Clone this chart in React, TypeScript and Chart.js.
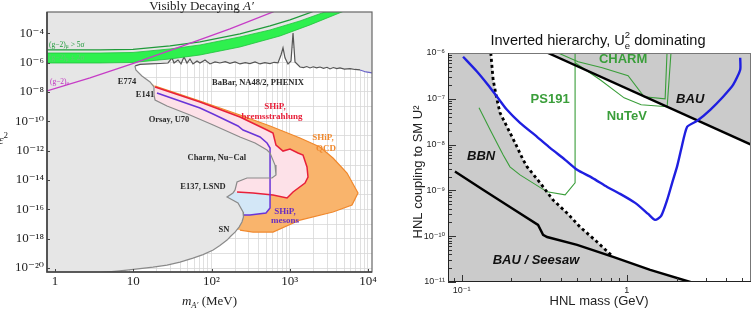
import React, { useEffect, useRef } from "react";
import { Chart, registerables } from "chart.js";

Chart.register(...registerables);

type P = [number, number];

const SERIF = '"Liberation Serif", "DejaVu Serif", serif';
const SANS = '"Liberation Sans", Arial, "DejaVu Sans", sans-serif';

/* ================= Left panel: Visibly Decaying A' ================= */
const leftXRange: P = [0.79, 11250];
const leftYRange: P = [5.4e-21, 2.8e-3];
const leftXTickValues = [1, 10, 100, 1000, 10000];
const leftXTickLabels = ["1", "10", "10²", "10³", "10⁴"];
const leftYTickValues = [1e-4, 1e-6, 1e-8, 1e-10, 1e-12, 1e-14, 1e-16, 1e-18, 1e-20];
const leftYTickLabels = ["10⁻⁴", "10⁻⁶", "10⁻⁸", "10⁻¹⁰", "10⁻¹²", "10⁻¹⁴", "10⁻¹⁶", "10⁻¹⁸", "10⁻²⁰"];

// upper limit from BaBar, NA48/2, PHENIX (noisy line)
const babarLimit: P[] = [
  [10.6, 6.0e-7], [12.2, 7.5e-7], [16.4, 8.1e-7], [22, 8.7e-7], [27.8, 9.4e-7], [31.3, 2.07e-6],
  [33.2, 9.4e-7], [37.3, 1.51e-6], [40.8, 8.1e-7], [44.5, 2.42e-6], [48.6, 9.4e-7], [53.1, 1.77e-6],
  [58, 8.1e-7], [65.3, 1.29e-6], [71.3, 9.4e-7], [82.6, 1.51e-6], [95.7, 8.1e-7], [111, 1.11e-6],
  [128, 9.4e-7], [150, 1.15e-6], [172, 9.0e-7], [200, 1.1e-6], [231, 8.1e-7], [270, 1.0e-6],
  [310, 8.5e-7], [360, 1.1e-6], [417, 8.1e-7], [480, 1.0e-6], [560, 8.6e-7], [630, 1.05e-6],
  [707, 9.5e-7], [773, 3.3e-6], [820, 1.0e-5], [869, 2.1e-6], [950, 8.1e-7], [1038, 1.3e-6],
  [1101, 1.05e-4], [1167, 1.1e-6], [1353, 5.0e-7], [1500, 4.6e-7], [1650, 5.4e-7], [1815, 4.3e-7],
  [2000, 5.2e-7], [2200, 4.4e-7], [2436, 5.0e-7], [2700, 4.1e-7], [3000, 4.8e-7], [3266, 3.7e-7],
  [3600, 4.6e-7], [4000, 3.9e-7], [4387, 4.3e-7], [5000, 3.6e-7], [5888, 3.9e-7], [6800, 3.4e-7],
  [7907, 3.15e-7],
];
const babarTail: P[] = [[7907, 3.15e-7], [9425, 2.3e-7], [11246, 1.97e-7], [13000, 1.8e-7]];

// beam dump / supernova limits (E774, E141, Orsay, Charm, E137, SN)
const beamDumpLimit: P[] = [
  [10.5, 6.0e-7], [10.8, 3.15e-7], [12.9, 1.23e-7], [16.4, 4.8e-8], [18.4, 2.2e-8], [18.4, 6.2e-9],
  [19, 2.84e-9], [27, 1.1e-9], [53, 2.7e-10], [105, 5.6e-11], [231, 8.5e-12], [360, 3.3e-12],
  [512, 1.1e-12], [560, 6.9e-13], [648, 1.05e-13], [667, 2.2e-14], [593, 1.37e-14], [284, 1.37e-14],
  [212, 7.3e-15], [200, 2.1e-15], [188, 1.3e-15], [158, 6.9e-16], [218, 2.7e-16], [253, 6.6e-17],
  [256, 3.0e-17], [245, 1.37e-17], [225, 6.2e-18], [200, 2.8e-18], [177, 1.52e-18], [158, 8.1e-19],
  [128, 3.4e-19], [105, 1.7e-19], [78, 8.3e-20], [58, 4.8e-20], [39.6, 2.57e-20], [27, 1.6e-20],
  [17.9, 1.17e-20], [12.2, 9.2e-21], [8.3, 7.3e-21], [6.2, 6.2e-21], [3.76, 4.9e-21],
];
const excludedCorners: P[] = [[0.5, 1e-2], [2e4, 1e-2]];
const excludedBottomLeft: P[] = [[0.5, 4e-21]];

// (g-2) curves
const gm2MuBandUpper: P[] = [
  [0.64, 4.5e-6], [3.76, 4.5e-6], [9.93, 4.9e-6], [29.5, 8.5e-6], [71.3, 1.59e-5], [231, 5.6e-5],
  [560, 1.68e-4], [1353, 6.9e-4], [2820, 2.83e-3], [3266, 3.9e-3],
];
const gm2MuBandLower: P[] = [
  [0.64, 9.4e-7], [3.76, 9.4e-7], [9.93, 1.02e-6], [29.5, 1.77e-6], [71.3, 3.3e-6], [231, 1.16e-5],
  [750, 6.5e-5], [1815, 3.7e-4], [4656, 2.83e-3], [5888, 4.9e-3],
];
const gm2Mu5Sigma: P[] = [
  [0.64, 7.3e-6], [3.76, 7.3e-6], [9.93, 7.9e-6], [29.5, 1.36e-5], [71.3, 2.55e-5], [231, 8.95e-5],
  [560, 3.15e-4], [1007, 8.1e-4], [1925, 2.83e-3], [2164, 3.9e-3],
];
const gm2E: P[] = [
  [0.64, 5.3e-9], [0.79, 1.17e-8], [2.8, 9.0e-8], [10.5, 9.4e-7], [39.6, 1.16e-5], [172, 1.96e-4],
  [611, 2.83e-3], [750, 4.9e-3],
];

// SHiP sensitivities
const shipQcdEdge: P[] = [
  [19, 2.56e-8], [71.3, 2.43e-9], [231, 2.7e-10], [560, 4.8e-11], [1353, 7.3e-12], [2436, 1.77e-12],
  [3571, 3.15e-13], [5394, 3.0e-14], [7452, 1.3e-15], [6248, 1.97e-16], [3571, 6.6e-17],
  [1353, 1.87e-17], [611, 2.84e-18], [339, 2.84e-18], [231, 3.9e-18],
];
const shipQcdHidden: P[] = [[128, 5.4e-18], [39.6, 4.3e-16], [16.4, 1.23e-10], [16.4, 4.8e-8]];
const shipBremEdge: P[] = [
  [19, 2.18e-8], [71.3, 2.07e-9], [231, 1.96e-10], [512, 2.56e-11], [611, 1.6e-11], [667, 2.4e-12],
  [820, 9.4e-13], [1007, 1.29e-12], [1275, 6.9e-13], [1477, 5.0e-13], [1661, 7.7e-14], [1711, 1.6e-14],
  [1567, 6.2e-15], [1101, 1.52e-15], [923, 5.9e-16], [611, 9.5e-16], [339, 1.3e-15], [212, 1.52e-15],
];
const shipBremHidden: P[] = [[149, 1.52e-15], [34, 5.3e-12], [16.4, 6.2e-9], [16.4, 3.5e-8]];
const shipMesonEdge: P[] = [
  [20.1, 8.5e-9], [71.3, 8.1e-10], [104.5, 3.15e-10], [218, 4.8e-11], [253, 2.56e-11], [293, 1.87e-11],
  [417, 8.5e-12], [512, 3.3e-12], [560, 1.52e-12], [560, 1.23e-16], [497, 5.6e-17], [310, 4.1e-17],
  [260, 4.1e-17],
];
const shipMesonHidden: P[] = [[128, 4.1e-17], [29.5, 5.3e-12], [17.4, 2.84e-9], [18.4, 1.37e-8]];

const leftGrayNotes = [
  { text: "E774", x: 8.3, y: 4.8e-8 },
  { text: "E141", x: 14.1, y: 6.2e-9 },
  { text: "BaBar, NA48/2, PHENIX", x: 393, y: 4.1e-8 },
  { text: "Orsay, U70", x: 28.6, y: 1.23e-10 },
  { text: "Charm, Nu\u2212Cal", x: 117, y: 3.15e-13 },
  { text: "E137, LSND", x: 77.9, y: 3.3e-15 },
  { text: "SN", x: 144, y: 3.9e-18 },
];
const leftShipNotes = [
  { text: "SHiP,", x: 648, y: 9.5e-10, color: "#e8203a" },
  { text: "bremsstrahlung", x: 593, y: 1.96e-10, color: "#e8203a" },
  { text: "SHiP,", x: 2661, y: 7.3e-12, color: "#f08a30" },
  { text: "QCD", x: 2905, y: 1.29e-12, color: "#f08a30" },
  { text: "SHiP,", x: 869, y: 6.6e-17, color: "#6a2fc0" },
  { text: "mesons", x: 869, y: 1.6e-17, color: "#6a2fc0" },
];
const gm2Notes = [
  { main: "(g\u22122)", sub: "\u03bc", rest: " > 5\u03c3", x: 0.84, y: 1.59e-5, color: "#1f9a3a" },
  { main: "(g\u22122)", sub: "\u03bc", rest: " \u00b1 2\u03c3", x: 0.84, y: 2.07e-6, color: "#63c873" },
  { main: "(g\u22122)", sub: "e", rest: "", x: 0.86, y: 4.8e-8, color: "#c030c0" },
];

/* ================= Right panel: HNL, inverted hierarchy ================= */
const rightXRange: P = [0.0826, 5.65];
const rightYRange: P = [1e-11, 1e-6];
const rightXTickValues = [0.1, 1];
const rightXTickLabels = ["10⁻¹", "1"];
const rightYTickValues = [1e-6, 1e-7, 1e-8, 1e-9, 1e-10, 1e-11];
const rightYTickLabels = ["10⁻⁶", "10⁻⁷", "10⁻⁸", "10⁻⁹", "10⁻¹⁰", "10⁻¹¹"];

const shipSensitivity: P[] = [
  [0.1019, 8.3e-7], [0.124, 3.9e-7], [0.144, 2.03e-7], [0.1637, 1.11e-7], [0.188, 5.75e-8],
  [0.2255, 2.99e-8], [0.286, 1.48e-8], [0.343, 8.5e-9], [0.423, 4.65e-9], [0.5, 2.81e-9],
  [0.617, 1.88e-9], [0.76, 1.19e-9], [0.911, 8.4e-10], [1.123, 5.34e-10], [1.346, 3.07e-10],
  [1.484, 2.27e-10], [1.614, 2.77e-10], [1.755, 6.2e-10], [1.882, 1.46e-9], [2.02, 3.44e-9],
  [2.13, 7.7e-9], [2.32, 2.45e-8], [2.67, 3.31e-8], [3.2, 5.75e-8], [3.83, 1.11e-7], [4.41, 2.03e-7],
  [4.86, 4.32e-7], [4.86, 7.9e-7],
];
const bauLimit: P[] = [[0.333, 1e-6], [5.65, 1e-8]];
const bauRegionCorners: P[] = [[7, 1e-8], [7, 2e-6], [0.333, 2e-6]];
const seesawLimit: P[] = [
  [0.091, 2.58e-9], [0.1346, 1.03e-9], [0.196, 4.36e-10], [0.29, 1.76e-10], [0.311, 1.07e-10],
  [0.329, 9.6e-11], [0.5, 6.45e-11], [0.826, 3.52e-11], [1.385, 1.83e-11], [2.42, 1e-11], [3.0, 7.8e-12],
];
const bbnLimit: P[] = [
  [0.15, 1e-6], [0.155, 2.6e-7], [0.1636, 9.5e-8], [0.1706, 4.95e-8], [0.188, 2.45e-8],
  [0.2105, 1.09e-8], [0.2355, 4.65e-9], [0.249, 3.27e-9], [0.2985, 1.46e-9], [0.357, 6.2e-10],
  [0.434, 3.22e-10], [0.521, 1.59e-10], [0.661, 7.5e-11], [0.826, 3.52e-11],
];
const bbnRegionTop: P[] = [[0.07, 2e-6], [0.149, 2e-6]];
const bbnRegionBottom: P[] = [[0.07, 7.8e-12]];
const ps191Limit: P[] = [
  [0.1273, 6.37e-8], [0.1486, 2.1e-8], [0.178, 6.0e-9], [0.196, 3.27e-9], [0.2255, 2.18e-9],
  [0.329, 9.3e-10], [0.423, 8.0e-10], [0.486, 1.46e-9], [0.486, 1.2e-6],
];
const charmLimit: P[] = [
  [0.384, 1e-6], [0.507, 6.45e-7], [0.71, 4.78e-7], [1.018, 3.19e-7], [1.273, 1.11e-7], [1.706, 1.0e-7],
  [1.755, 1.2e-6],
];
const nutevLimit: P[] = [
  [0.486, 6.14e-7], [0.689, 2.61e-7], [0.963, 1.05e-7], [1.221, 7.4e-8], [1.755, 6.7e-8], [1.857, 1.2e-6],
];
const rightGreenNotes = [
  { text: "CHARM", x: 0.95, y: 7.1e-7 },
  { text: "PS191", x: 0.343, y: 9.5e-8 },
  { text: "NuTeV", x: 1.0, y: 4.05e-8 },
];
const rightBlackNotes = [
  { text: "BAU", x: 2.42, y: 9.5e-8 },
  { text: "BBN", x: 0.131, y: 5.4e-9 },
  { text: "BAU / Seesaw", x: 0.282, y: 3.03e-11 },
];

/* ================= helpers ================= */
const toXY = (pts: P[]) => pts.map(([x, y]) => ({ x, y }));
const sameLog = (a: number, b: number) => Math.abs(Math.log10(a) - Math.log10(b)) < 1e-6;
const labelFor = (vals: number[], labels: string[]) => (v: any) => {
  const i = vals.findIndex((t) => sameLog(t, Number(v)));
  return i >= 0 ? labels[i] : "";
};
const logSteps = (lo: number, hi: number, mults: number[]) => {
  const out: number[] = [];
  for (let e = Math.floor(Math.log10(lo)) - 1; e <= Math.ceil(Math.log10(hi)); e++) {
    for (const m of mults) {
      const v = m * Math.pow(10, e);
      if (v >= lo * 0.9999 && v <= hi * 1.0001) out.push(v);
    }
  }
  return out;
};
const ALL = [1, 2, 3, 4, 5, 6, 7, 8, 9];

const lineDs = (pts: P[], color: string, width: number, order: number, extra: any = {}) => ({
  data: toXY(pts), showLine: true, borderColor: color, borderWidth: width, pointRadius: 0,
  fill: false, order, tension: 0, ...extra,
});
const areaDs = (pts: P[], color: string, order: number, border = "rgba(0,0,0,0)", bw = 1) => ({
  data: toXY(pts), showLine: true, borderColor: border, borderWidth: bw, backgroundColor: color,
  fill: "shape", pointRadius: 0, order, tension: 0,
});

type Seg = { t: string; font: string; dy?: number; noAdvance?: boolean };
function drawRich(ctx: CanvasRenderingContext2D, segs: Seg[], x: number, y: number, align: string, color: string) {
  const widths = segs.map((s) => {
    ctx.font = s.font;
    return ctx.measureText(s.t).width;
  });
  const total = segs.reduce((acc, s, i) => acc + (s.noAdvance ? 0 : widths[i]), 0);
  let cx = align === "left" ? x : align === "center" ? x - total / 2 : x - total;
  ctx.fillStyle = color;
  ctx.textAlign = "left";
  segs.forEach((s, i) => {
    ctx.font = s.font;
    ctx.fillText(s.t, cx, y + (s.dy || 0));
    if (!s.noAdvance) cx += widths[i];
  });
}

/* ================= plugins ================= */
const leftDecor = {
  id: "leftDecor",
  afterDraw(chart: any) {
    const { ctx, chartArea: a } = chart;
    const x = chart.scales.x;
    const y = chart.scales.y;
    ctx.save();
    // tick marks
    ctx.strokeStyle = "#444";
    ctx.lineWidth = 1;
    ctx.beginPath();
    for (const v of leftXTickValues) {
      const px = Math.round(x.getPixelForValue(v)) + 0.5;
      ctx.moveTo(px, a.bottom);
      ctx.lineTo(px, a.bottom - 3);
    }
    for (const v of leftYTickValues) {
      const py = Math.round(y.getPixelForValue(v)) + 0.5;
      ctx.moveTo(a.left, py);
      ctx.lineTo(a.left + 3, py);
    }
    ctx.stroke();
    // frame
    ctx.strokeStyle = "#666";
    ctx.lineWidth = 1.2;
    ctx.strokeRect(a.left, a.top, a.right - a.left, a.bottom - a.top);
    ctx.strokeStyle = "#444";
    ctx.lineWidth = 1.6;
    ctx.beginPath();
    ctx.moveTo(a.left, a.top);
    ctx.lineTo(a.left, a.bottom);
    ctx.lineTo(a.right, a.bottom);
    ctx.stroke();

    // notes
    ctx.textBaseline = "middle";
    ctx.textAlign = "center";
    ctx.font = `bold 8.5px ${SERIF}`;
    ctx.fillStyle = "#2a2a2a";
    for (const n of leftGrayNotes) ctx.fillText(n.text, x.getPixelForValue(n.x), y.getPixelForValue(n.y));
    ctx.font = `bold 9px ${SERIF}`;
    for (const n of leftShipNotes) {
      ctx.fillStyle = n.color;
      ctx.fillText(n.text, x.getPixelForValue(n.x), y.getPixelForValue(n.y));
    }
    for (const n of gm2Notes) {
      drawRich(
        ctx,
        [
          { t: n.main, font: `7.5px ${SERIF}` },
          { t: n.sub, font: `5.5px ${SERIF}`, dy: 2 },
          { t: n.rest, font: `7.5px ${SERIF}` },
        ],
        x.getPixelForValue(n.x), y.getPixelForValue(n.y), "left", n.color,
      );
    }

    // title
    ctx.textBaseline = "alphabetic";
    drawRich(
      ctx,
      [
        { t: "Visibly Decaying ", font: `13px ${SERIF}` },
        { t: "A\u2032", font: `italic 13px ${SERIF}` },
      ],
      (a.left + a.right) / 2 - 8, 10, "center", "#222",
    );
    // x axis title
    drawRich(
      ctx,
      [
        { t: "m", font: `italic 13px ${SERIF}` },
        { t: "A\u2032", font: `italic 8.5px ${SERIF}`, dy: 3 },
        { t: " (MeV)", font: `13px ${SERIF}` },
      ],
      (a.left + a.right) / 2, 305, "center", "#222",
    );
    // y axis title (mostly outside the picture)
    drawRich(
      ctx,
      [
        { t: "\u03b5", font: `italic 13px ${SERIF}` },
        { t: "2", font: `9px ${SERIF}`, dy: -6 },
      ],
      8, 144, "right", "#222",
    );
    ctx.restore();
  },
};

const rightDecor = {
  id: "rightDecor",
  afterDraw(chart: any) {
    const { ctx, chartArea: a } = chart;
    const x = chart.scales.x;
    const y = chart.scales.y;
    ctx.save();
    // inward ticks
    ctx.strokeStyle = "#333";
    ctx.lineWidth = 1;
    ctx.beginPath();
    for (const v of logSteps(rightXRange[0], rightXRange[1], ALL)) {
      const major = rightXTickValues.some((t) => sameLog(t, v));
      const px = Math.round(x.getPixelForValue(v)) + 0.5;
      ctx.moveTo(px, a.bottom);
      ctx.lineTo(px, a.bottom - (major ? 7 : 4));
    }
    for (const v of logSteps(rightYRange[0], rightYRange[1], ALL)) {
      const major = rightYTickValues.some((t) => sameLog(t, v));
      const py = Math.round(y.getPixelForValue(v)) + 0.5;
      ctx.moveTo(a.left, py);
      ctx.lineTo(a.left + (major ? 8 : 4), py);
    }
    ctx.stroke();
    // frame
    ctx.strokeStyle = "#777";
    ctx.lineWidth = 1;
    ctx.strokeRect(a.left + 0.5, a.top + 0.5, a.right - a.left - 1, a.bottom - a.top - 1);
    ctx.strokeStyle = "#222";
    ctx.beginPath();
    ctx.moveTo(a.left + 0.5, a.top);
    ctx.lineTo(a.left + 0.5, a.bottom - 0.5);
    ctx.lineTo(a.right, a.bottom - 0.5);
    ctx.stroke();

    // notes
    ctx.textBaseline = "middle";
    ctx.textAlign = "center";
    ctx.font = `bold 13px ${SANS}`;
    ctx.fillStyle = "#3a9e3a";
    for (const n of rightGreenNotes) ctx.fillText(n.text, x.getPixelForValue(n.x), y.getPixelForValue(n.y));
    ctx.font = `italic bold 13px ${SANS}`;
    ctx.fillStyle = "#111";
    for (const n of rightBlackNotes) ctx.fillText(n.text, x.getPixelForValue(n.x), y.getPixelForValue(n.y));

    // title
    ctx.textBaseline = "alphabetic";
    drawRich(
      ctx,
      [
        { t: "Inverted hierarchy, U", font: `14.6px ${SANS}` },
        { t: "2", font: `9.5px ${SANS}`, dy: -7, noAdvance: true },
        { t: "e", font: `9.5px ${SANS}`, dy: 4 },
        { t: " dominating", font: `14.6px ${SANS}` },
      ],
      203, 45, "center", "#111",
    );
    // x axis title
    ctx.textAlign = "center";
    ctx.font = `13px ${SANS}`;
    ctx.fillStyle = "#222";
    ctx.textBaseline = "middle";
    ctx.fillText("HNL mass (GeV)", 204, 301.5);
    // y axis title
    ctx.translate(23, 172);
    ctx.rotate(-Math.PI / 2);
    ctx.fillText("HNL coupling to SM U\u00b2", 0, 0);
    ctx.restore();
  },
};

/* ================= configs ================= */
function leftConfig(): any {
  const excluded: P[] = [
    ...excludedCorners,
    ...[...babarTail].reverse(),
    ...[...babarLimit].reverse(),
    ...beamDumpLimit,
    ...excludedBottomLeft,
  ];
  const band: P[] = [...gm2MuBandUpper, ...[...gm2MuBandLower].reverse()];
  return {
    type: "scatter",
    data: {
      datasets: [
        lineDs(gm2E, "#c63cc6", 1.3, 0),
        lineDs(gm2Mu5Sigma, "#1f9a3a", 1.2, 1),
        areaDs(band, "#2ef04e", 2, "#22c03e", 0.8),
        lineDs(babarLimit, "#555", 1.2, 3),
        lineDs(babarTail, "#6a64c8", 1.2, 3),
        lineDs(beamDumpLimit, "#8a8a8a", 1.2, 4),
        lineDs(shipMesonEdge, "#6a35d8", 1.5, 5),
        lineDs(shipBremEdge, "#e8203a", 1.5, 6),
        lineDs(shipQcdEdge, "#f0882c", 1.2, 7),
        areaDs(excluded, "#e6e6e6", 8),
        areaDs([...shipBremEdge, ...shipBremHidden], "#fde1e8", 9),
        areaDs([...shipMesonEdge, ...shipMesonHidden], "#d3e7f7", 10),
        areaDs([...shipQcdEdge, ...shipQcdHidden], "#f9b46c", 11),
      ],
    },
    options: {
      responsive: false,
      maintainAspectRatio: false,
      animation: false,
      events: [],
      layout: { padding: { left: 0, right: 23, top: 12, bottom: 0 } },
      plugins: { legend: { display: false }, tooltip: { enabled: false }, title: { display: false } },
      elements: { point: { radius: 0 } },
      scales: {
        x: {
          type: "logarithmic",
          min: leftXRange[0],
          max: leftXRange[1],
          afterFit: (s: any) => { s.height = 40; },
          afterBuildTicks: (s: any) => {
            s.ticks = logSteps(leftXRange[0], leftXRange[1], ALL).map((v) => ({ value: v }));
          },
          ticks: {
            autoSkip: false, maxRotation: 0, minRotation: 0, padding: 2, color: "#222",
            font: { family: SERIF, size: 13 },
            callback: labelFor(leftXTickValues, leftXTickLabels),
          },
          grid: { color: "#d8d8d8", lineWidth: 0.8, drawTicks: false },
          border: { display: false },
        },
        y: {
          type: "logarithmic",
          min: leftYRange[0],
          max: leftYRange[1],
          afterFit: (s: any) => { s.width = 47; },
          afterBuildTicks: (s: any) => {
            s.ticks = logSteps(leftYRange[0], leftYRange[1], [1]).map((v) => ({ value: v }));
          },
          ticks: {
            autoSkip: false, padding: 3, color: "#222",
            font: { family: SERIF, size: 13 },
            callback: labelFor(leftYTickValues, leftYTickLabels),
          },
          grid: { color: "#d8d8d8", lineWidth: 0.8, drawTicks: false },
          border: { display: false },
        },
      },
    },
    plugins: [leftDecor],
  };
}

function rightConfig(): any {
  const bauRegion: P[] = [...bauLimit, ...bauRegionCorners];
  const bbnRegion: P[] = [...bbnRegionTop, ...bbnLimit, ...seesawLimit.filter((p) => p[0] > 0.826), ...bbnRegionBottom];
  return {
    type: "scatter",
    data: {
      datasets: [
        lineDs(shipSensitivity, "#1f1fe0", 2.4, 0, { tension: 0.2 }),
        lineDs(bauLimit, "#000", 2.4, 1),
        lineDs(seesawLimit, "#000", 2.4, 1),
        lineDs(bbnLimit, "#000", 2.8, 2, { borderDash: [3, 3] }),
        lineDs(ps191Limit, "#3a9e3a", 1.1, 3),
        lineDs(charmLimit, "#3a9e3a", 1.1, 3),
        lineDs(nutevLimit, "#3a9e3a", 1.1, 3),
        areaDs(bauRegion, "#cbcbcb", 4),
        areaDs(bbnRegion, "#cbcbcb", 4),
      ],
    },
    options: {
      responsive: false,
      maintainAspectRatio: false,
      animation: false,
      events: [],
      layout: { padding: { left: 0, right: 3, top: 53, bottom: 0 } },
      plugins: { legend: { display: false }, tooltip: { enabled: false }, title: { display: false } },
      elements: { point: { radius: 0 } },
      scales: {
        x: {
          type: "logarithmic",
          min: rightXRange[0],
          max: rightXRange[1],
          afterFit: (s: any) => { s.height = 30; },
          afterBuildTicks: (s: any) => { s.ticks = rightXTickValues.map((v) => ({ value: v })); },
          ticks: {
            autoSkip: false, maxRotation: 0, minRotation: 0, padding: 3, color: "#222",
            font: { family: SANS, size: 9 },
            callback: labelFor(rightXTickValues, rightXTickLabels),
          },
          grid: { display: false, drawTicks: false },
          border: { display: false },
        },
        y: {
          type: "logarithmic",
          min: rightYRange[0],
          max: rightYRange[1],
          afterFit: (s: any) => { s.width = 53; },
          afterBuildTicks: (s: any) => { s.ticks = rightYTickValues.map((v) => ({ value: v })); },
          ticks: {
            autoSkip: false, padding: 3, color: "#222",
            font: { family: SANS, size: 9 },
            callback: labelFor(rightYTickValues, rightYTickLabels),
          },
          grid: { display: false, drawTicks: false },
          border: { display: false },
        },
      },
    },
    plugins: [rightDecor],
  };
}

export default function App() {
  const leftRef = useRef<HTMLCanvasElement>(null);
  const rightRef = useRef<HTMLCanvasElement>(null);
  useEffect(() => {
    const c1 = new Chart(leftRef.current as HTMLCanvasElement, leftConfig());
    const c2 = new Chart(rightRef.current as HTMLCanvasElement, rightConfig());
    return () => {
      c1.destroy();
      c2.destroy();
    };
  }, []);
  return (
    <div style={{ position: "absolute", left: 0, top: 0, width: 754, height: 312, background: "#fff", overflow: "hidden" }}>
      <canvas ref={leftRef} width={395} height={312} style={{ position: "absolute", left: 0, top: 0, width: 395, height: 312 }} />
      <canvas ref={rightRef} width={359} height={312} style={{ position: "absolute", left: 395, top: 0, width: 359, height: 312 }} />
    </div>
  );
}
